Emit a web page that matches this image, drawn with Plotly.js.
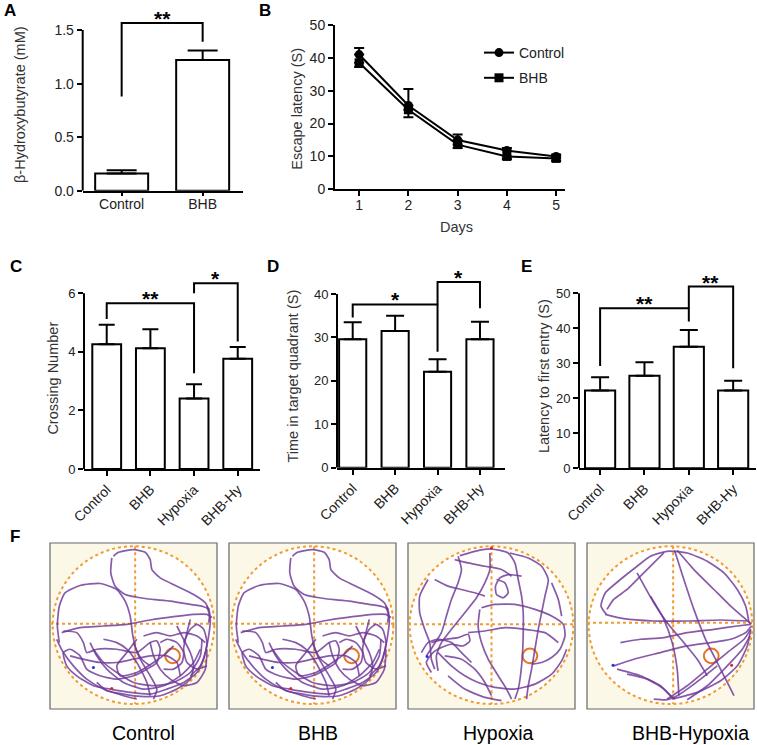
<!DOCTYPE html>
<html><head><meta charset="utf-8">
<script src="https://cdn.plot.ly/plotly-3.0.1.min.js"></script>
<style>html,body{margin:0;padding:0;background:#fff}#chart{width:757px;height:745px}</style>
</head><body><div id="chart"></div>
<script>
// ---------------- DATA ----------------
const catsA = ['Control', 'BHB'];
const hbA = [0.16, 1.22];
const hbErrA = [0.03, 0.09];

const days = [1, 2, 3, 4, 5];
const latControl = [41.0, 25.5, 15.0, 11.8, 10.0];
const latControlErr = [2.0, 5.0, 1.7, 0.8, 0.6];
const latBHB = [38.5, 24.2, 13.6, 10.0, 9.4];
const latBHBErr = [1.3, 2.3, 1.0, 0.8, 0.8];

const catsBar = ['Control', 'BHB', 'Hypoxia', 'BHB-Hy'];
const crossing = [4.26, 4.12, 2.41, 3.76];
const crossingErr = [0.66, 0.65, 0.48, 0.40];
const timeTarget = [29.6, 31.5, 22.1, 29.6];
const timeTargetErr = [3.9, 3.5, 2.9, 4.0];
const latFirst = [22.2, 26.4, 34.7, 22.2];
const latFirstErr = [3.8, 3.9, 4.8, 2.8];

// significance brackets: [fromIdx, toIdx, leftLegBottom, top, rightLegBottom, label]
const sigA = [[0, 1, 0.88, 1.566, 1.39, '**']];
const sigC = [[0, 2, 5.12, 5.66, 3.27, '**'], [2, 3, 6.0, 6.34, 4.35, '*']];
const sigD = [[0, 2, 34.6, 37.6, 26.7, '*'], [2, 3, 37.6, 42.8, 36.7, '*']];
const sigE = [[0, 2, 29.2, 45.7, 41.9, '**'], [2, 3, 45.7, 51.9, 28.6, '**']];

// F: swim paths (pool image coords 0-500, y downwards)
const poolLabels = ['Control', 'BHB', 'Hypoxia', 'BHB-Hypoxia'];
const pathsControl = [
  [[190,40],[205,28],[250,20],[285,28],[300,50],[305,80],[330,105],[380,130],[430,155],[465,180],[478,210],[475,240]],
  [[185,45],[182,90],[195,130],[225,155],[290,168],[360,175],[420,185],[460,192],[478,200]],
  [[28,300],[22,250],[28,190],[45,150],[90,128],[150,122],[200,140],[225,175],[240,220],[248,280],[258,320],[275,350],[300,370]],
  [[35,270],[90,255],[160,250],[230,245],[300,232],[370,222],[430,215],[470,215],[485,225]],
  [[40,265],[80,270],[100,300],[110,330],[140,320],[200,320],[260,330],[300,300],[320,295],[330,320],[320,360],[290,380],[250,400],[200,410],[150,400],[110,380],[90,340],[60,320],[40,330],[50,370],[80,400],[130,430],[180,440],[240,450],[300,455],[350,440],[400,420],[440,390],[460,350],[470,300],[460,260],[440,245],[420,260],[400,300]],
  [[130,320],[160,360],[200,390],[250,420],[310,430],[370,420],[420,390],[450,340],[455,290]],
  [[380,250],[400,290],[420,330],[430,370],[420,410],[380,440],[330,460],[270,462],[220,455],[170,445],[140,420]],
  [[300,300],[310,340],[330,380],[360,410],[400,430],[440,420],[465,380],[470,320]],
  [[250,300],[270,350],[300,400],[320,440],[310,470]],
  [[470,190],[480,230],[475,280],[465,330],[450,370],[420,400]],
  [[260,290],[230,330],[200,370],[210,400],[260,390],[310,360],[350,330],[370,310]],
  [[60,340],[100,350],[150,360],[200,360],[250,350],[300,340],[350,340],[380,360],[390,400]],
  [[20,290],[40,330],[70,370],[110,410],[160,440],[220,460],[260,470]],
  [[120,300],[140,340],[170,380],[220,420],[280,440],[340,430],[390,400],[430,360],[450,320]],
  [[280,280],[320,270],[360,280],[400,270],[440,280],[465,300]],
  [[330,300],[350,290],[380,300],[400,330],[395,360],[370,380],[340,380]],
  [[160,290],[200,300],[230,320],[260,360],[290,420],[300,460]],
  [[420,230],[410,270],[400,320],[410,360],[440,380],[470,370]]
];
const pathsHypoxia = [
  [[150,40],[160,80],[150,120],[130,170],[115,220],[100,270],[75,310],[55,340]],
  [[155,38],[200,25],[250,18],[300,30],[320,60],[330,110],[340,160],[345,210],[345,270],[343,330],[338,390],[330,440],[320,470]],
  [[245,30],[245,80],[230,120],[205,165],[170,210],[130,260],[100,300],[85,340],[90,385]],
  [[265,110],[290,120],[300,150],[285,165],[265,155],[262,130],[275,105],[300,95],[340,100]],
  [[220,195],[260,185],[320,185],[380,200],[430,220],[465,245],[470,280],[455,320],[430,345],[400,360],[370,365]],
  [[305,30],[360,45],[400,70],[420,110],[410,160],[400,210],[390,260],[380,320],[370,380],[360,430],[355,470]],
  [[60,110],[35,160],[35,210],[50,260],[65,300],[70,350],[80,380]],
  [[70,300],[110,290],[150,285],[180,275],[185,295],[165,310],[130,305],[100,315],[75,330],[55,360],[70,390]],
  [[90,330],[130,370],[170,400],[210,420],[260,435],[320,440],[380,425],[430,395],[460,355],[475,320]],
  [[215,200],[210,250],[220,300],[240,350],[270,400],[295,440],[310,470]],
  [[110,340],[160,350],[200,380],[230,420],[250,460]],
  [[140,50],[180,60],[230,70],[280,80],[310,100]],
  [[80,110],[120,130],[160,140],[200,150],[230,160]],
  [[120,400],[170,440],[230,465],[280,475]],
  [[40,330],[60,300],[90,290],[130,300],[160,330],[190,360]],
  [[180,270],[230,265],[290,255],[350,260],[410,270],[450,300]],
  [[430,120],[450,170],[460,220]]
];
const pathsBHBHypoxia = [
  [[58,215],[42,190],[55,150],[100,110],[150,70],[190,40],[240,25],[300,30],[360,55],[410,90],[450,140],[475,190],[485,240]],
  [[55,215],[110,228],[200,235],[300,235],[400,232],[480,235]],
  [[60,200],[80,170],[120,140],[160,100],[200,60],[230,30]],
  [[262,22],[290,110],[320,200],[355,290],[390,360],[420,420],[440,460]],
  [[270,22],[320,80],[380,140],[430,190],[470,225],[492,245]],
  [[150,90],[200,180],[240,240],[290,300],[330,350],[360,400]],
  [[80,370],[140,350],[220,330],[300,310],[370,300],[430,290],[475,270],[492,250]],
  [[90,380],[160,400],[220,430],[255,465],[265,470]],
  [[240,470],[300,430],[360,380],[420,330],[470,290],[490,260]],
  [[255,470],[330,450],[400,415],[450,370],[480,310],[490,260]],
  [[200,470],[240,472],[270,460],[300,440],[340,410],[390,370]],
  [[300,472],[360,430],[420,370],[465,320],[488,280]],
  [[120,395],[180,410],[230,440],[260,470]],
  [[190,160],[230,230],[255,300],[270,380],[275,460]],
  [[100,300],[160,290],[230,285],[300,270],[380,260],[450,250],[490,245]]
];
const poolPaths = [pathsControl, pathsControl, pathsHypoxia, pathsBHBHypoxia];
const poolStart = [[130,375],[130,375],[57,342],[78,368]];
const poolEnd = [[185,438],[185,438],[250,15],[433,368]];
// pool geometry in image coords: circle [x0,x1,y0,y1], crosshair [vx, hy], platform [cx, cy, r]
const poolCircle = [[8,492,10,485],[8,492,10,485],[5,495,10,485],[5,495,10,485]];
const poolCross = [[255,243],[255,243],[250,245],[258,240]];
const poolPlatform = [[367,340,22],[367,340,22],[365,340,22],[372,340,22]];

// ---------------- LAYOUT HELPERS ----------------
const W = 757, H = 745;
const FONT = 'Liberation Sans, Arial, sans-serif';
const px = p => p / W;
const py = p => 1 - p / H;

const traces = [];
const shapes = [];
const annotations = [];
const layout = {
  width: W, height: H, margin: {l: 0, r: 0, t: 0, b: 0},
  paper_bgcolor: '#fff', plot_bgcolor: 'rgba(0,0,0,0)',
  font: {family: FONT, color: '#222', size: 14},
  showlegend: true,
  legend: {x: px(479), y: py(37), xanchor: 'left', yanchor: 'top', font: {size: 14, color: '#222'},
           bgcolor: 'rgba(0,0,0,0)', itemwidth: 30, tracegroupgap: 4}
};

function axisCommon(extra) {
  return Object.assign({
    showgrid: false, zeroline: false, fixedrange: true,
    ticks: 'outside', ticklen: 5, tickwidth: 2, tickcolor: '#000',
    linecolor: '#000', linewidth: 2
  }, extra);
}

function barPanel(n, cats, vals, errs, sig, pos) {
  const xa = 'x' + n, ya = 'y' + n;
  layout['xaxis' + n] = axisCommon({
    domain: [px(pos.l), px(pos.r)], range: pos.xr, type: 'category',
    categoryorder: 'array', categoryarray: cats, anchor: ya,
    showline: true, tickangle: pos.angle, tickfont: {size: 14, color: '#222'},
    ticklen: pos.xtl || 5, ticklabelstandoff: pos.xso || 0
  });
  layout['yaxis' + n] = axisCommon({
    domain: [py(pos.b), py(pos.t)], range: [0, pos.ytop], anchor: xa,
    showline: false, dtick: pos.dtick, tick0: 0, tickfont: {size: pos.tfs, color: '#222'},
    tickformat: pos.fmt || ''
  });
  shapes.push({type: 'line', xref: xa + ' domain', yref: ya, x0: 0, x1: 0, y0: 0, y1: pos.axTop,
               line: {color: '#000', width: 2}, layer: 'above'});
  traces.push({
    type: 'bar', x: cats, y: vals, xaxis: xa, yaxis: ya, width: pos.bw,
    marker: {color: '#fff', line: {color: '#000', width: 2}},
    error_y: {type: 'data', symmetric: false, array: errs, arrayminus: errs.map(() => 0),
              color: '#000', thickness: 2, width: pos.cap},
    showlegend: false, hoverinfo: 'skip'
  });
  sig.forEach(s => {
    const [i, j, yl, yt, yr, lab] = s;
    traces.push({
      type: 'scatter', mode: 'lines', xaxis: xa, yaxis: ya,
      x: [cats[i], cats[i], cats[j], cats[j]], y: [yl, yt, yt, yr],
      line: {color: '#000', width: 2}, showlegend: false, hoverinfo: 'skip'
    });
    annotations.push({xref: xa, yref: ya, x: (i + j) / 2, y: yt, text: '<b>' + lab + '</b>', showarrow: false,
      xanchor: 'center', yanchor: 'bottom', yshift: -9,
      font: {size: 21, color: '#000', family: FONT}});
  });
}

// ---------------- PANEL A ----------------
barPanel('', catsA, hbA, hbErrA, sigA,
  {l: 82.7, r: 243, b: 190.7, t: 8, xr: [-0.481, 1.498], ytop: 1.706, axTop: 1.5,
   dtick: 0.5, tfs: 14, bw: 0.654, cap: 15, angle: 0, fmt: '.1f', xtl: 3, xso: -4});

// ---------------- PANEL B ----------------
layout.xaxis2 = axisCommon({domain: [px(335), px(565)], range: [0.51, 5.18], anchor: 'y2',
  showline: true, tickvals: days, tickfont: {size: 14, color: '#222'}, ticklabelstandoff: -3});
layout.yaxis2 = axisCommon({domain: [py(189.3), py(25)], range: [0, 50], anchor: 'x2',
  showline: true, dtick: 10, tickfont: {size: 14, color: '#222'}});
traces.push({
  type: 'scatter', mode: 'lines+markers', name: 'Control', legendgroup: 'c', x: days, y: latControl,
  xaxis: 'x2', yaxis: 'y2', cliponaxis: false,
  line: {color: '#000', width: 2}, marker: {symbol: 'circle', size: 9, color: '#000'},
  error_y: {type: 'data', symmetric: false, array: latControlErr, arrayminus: days.map(() => 0),
            color: '#000', thickness: 2, width: 5},
  hoverinfo: 'skip'
});
traces.push({
  type: 'scatter', mode: 'lines+markers', name: 'BHB', legendgroup: 'b', x: days, y: latBHB,
  xaxis: 'x2', yaxis: 'y2', cliponaxis: false,
  line: {color: '#000', width: 2}, marker: {symbol: 'square', size: 9, color: '#000'},
  error_y: {type: 'data', symmetric: false, array: days.map(() => 0), arrayminus: latBHBErr,
            color: '#000', thickness: 2, width: 5},
  hoverinfo: 'skip'
});

// ---------------- PANELS C, D, E ----------------
barPanel(3, catsBar, crossing, crossingErr, sigC,
  {l: 84, r: 260, b: 469, t: 268, xr: [-0.52, 3.51], ytop: 6.86, axTop: 6,
   dtick: 2, tfs: 13, bw: 0.66, cap: 8, angle: -45});
barPanel(4, catsBar, timeTarget, timeTargetErr, sigD,
  {l: 337, r: 505, b: 467.7, t: 268, xr: [-0.37, 3.59], ytop: 46.0, axTop: 40,
   dtick: 10, tfs: 13, bw: 0.64, cap: 9, angle: -45});
barPanel(5, catsBar, latFirst, latFirstErr, sigE,
  {l: 579, r: 756, b: 468.3, t: 268, xr: [-0.476, 3.515], ytop: 57.2, axTop: 50,
   dtick: 10, tfs: 13, bw: 0.68, cap: 9, angle: -45});

// ---------------- PANEL F ----------------
const frameL = [50, 229, 408, 587];
const frameW = 167;
const labelCx = [143, 318, 499, 690];
poolPaths.forEach((paths, k) => {
  const n = 6 + k, xa = 'x' + n, ya = 'y' + n;
  layout['xaxis' + n] = {domain: [px(frameL[k]), px(frameL[k] + frameW)], range: [0, 500],
    visible: false, fixedrange: true, anchor: ya};
  layout['yaxis' + n] = {domain: [py(709), py(543)], range: [500, 0],
    visible: false, fixedrange: true, anchor: xa};
  shapes.push({type: 'rect', xref: xa + ' domain', yref: ya + ' domain', x0: 0, x1: 1, y0: 0, y1: 1,
    fillcolor: '#fcf8e8', line: {color: '#666', width: 1.2}, layer: 'below'});
  const c = poolCircle[k];
  shapes.push({type: 'circle', xref: xa, yref: ya, x0: c[0], x1: c[1], y0: c[2], y1: c[3],
    fillcolor: '#fff', line: {color: '#f29b30', width: 2, dash: 'dot'}, layer: 'below'});
  const cr = poolCross[k];
  shapes.push({type: 'line', xref: xa, yref: ya, x0: cr[0], x1: cr[0], y0: c[2], y1: c[3],
    line: {color: '#f29b30', width: 2, dash: 'dot'}, layer: 'below'});
  shapes.push({type: 'line', xref: xa, yref: ya, x0: 0, x1: 500, y0: cr[1], y1: cr[1],
    line: {color: '#f29b30', width: 2, dash: 'dot'}, layer: 'below'});
  const pl = poolPlatform[k];
  shapes.push({type: 'circle', xref: xa, yref: ya, x0: pl[0] - pl[2], x1: pl[0] + pl[2],
    y0: pl[1] - pl[2], y1: pl[1] + pl[2], line: {color: '#e8742a', width: 2}, layer: 'below'});
  paths.forEach(p => {
    traces.push({type: 'scatter', mode: 'lines', xaxis: xa, yaxis: ya,
      x: p.map(q => q[0]), y: p.map(q => q[1]),
      line: {color: 'rgba(110,55,150,0.82)', width: 1.7, shape: 'spline', smoothing: 0.6},
      showlegend: false, hoverinfo: 'skip'});
  });
  traces.push({type: 'scatter', mode: 'markers', xaxis: xa, yaxis: ya,
    x: [poolStart[k][0], poolEnd[k][0]], y: [poolStart[k][1], poolEnd[k][1]],
    marker: {size: 3, color: ['#2233dd', '#dd2222']}, showlegend: false, hoverinfo: 'skip'});
  annotations.push({xref: 'paper', yref: 'paper', x: px(labelCx[k]), y: py(733), text: poolLabels[k],
    showarrow: false, xanchor: 'center', yanchor: 'middle', font: {size: 19.5, color: '#000'}});
});

// ---------------- TEXT ----------------
const letters = [['A', 10, 11], ['B', 264.5, 11], ['C', 15.8, 266], ['D', 272.5, 266.7], ['E', 526.7, 266.7], ['F', 15, 536.2]];
letters.forEach(l => annotations.push({xref: 'paper', yref: 'paper', x: px(l[1]), y: py(l[2]),
  text: '<b>' + l[0] + '</b>', showarrow: false, xanchor: 'center', yanchor: 'middle',
  font: {size: 17, color: '#000'}}));
const yTitles = [['β-Hydroxybutyrate (mM)', 20, 105], ['Escape latency (S)', 296.7, 109],
  ['Crossing Number', 53.3, 378.3], ['Time in target quadrant (S)', 293.3, 376.2],
  ['Latency to first entry (S)', 543.3, 375.8]];
yTitles.forEach(t => annotations.push({xref: 'paper', yref: 'paper', x: px(t[1]), y: py(t[2]),
  text: t[0], textangle: -90, showarrow: false, xanchor: 'center', yanchor: 'middle',
  font: {size: 14.5, color: '#333'}}));
annotations.push({xref: 'paper', yref: 'paper', x: px(456.7), y: py(226.7), text: 'Days',
  showarrow: false, xanchor: 'center', yanchor: 'middle', font: {size: 14.5, color: '#333'}});

layout.shapes = shapes;
layout.annotations = annotations;
Plotly.newPlot('chart', traces, layout, {staticPlot: true, displayModeBar: false});
</script></body></html>
